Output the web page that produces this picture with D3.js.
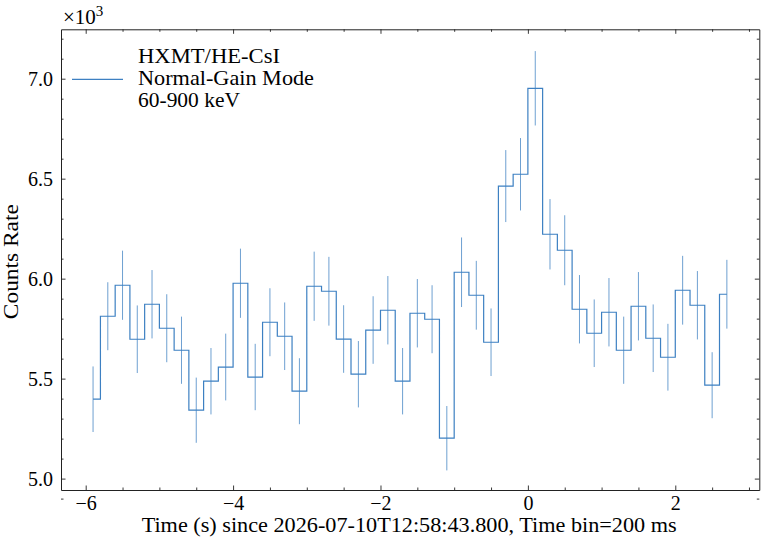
<!DOCTYPE html>
<html>
<head>
<meta charset="utf-8">
<script src="https://cdn.jsdelivr.net/npm/d3@7"></script>
<style>
  body { margin: 0; background: #fff; }
  text { font-family: "Liberation Serif", "DejaVu Serif", serif; fill: #000; }
</style>
</head>
<body>
<svg id="chart" width="763" height="545"></svg>
<script>
"use strict";

// bin centres (s), 200 ms bins
var times = [-5.9,-5.7,-5.5,-5.3,-5.1,-4.9,-4.7,-4.5,-4.3,-4.1,
             -3.9,-3.7,-3.5,-3.3,-3.1,-2.9,-2.7,-2.5,-2.3,-2.1,
             -1.9,-1.7,-1.5,-1.3,-1.1,-0.9,-0.7,-0.5,-0.3,-0.1,
             0.1,0.3,0.5,0.7,0.9,1.1,1.3,1.5,1.7,1.9,
             2.1,2.3,2.5,2.7];
// count rate (counts/s)
var rates = [5397,5812,5967,5697,5872,5752,5642,5342,5487,5558,
             5977,5508,5782,5712,5437,5962,5937,5698,5522,5743,
             5842,5487,5827,5797,5202,6032,5917,5682,6463,6522,
             6952,6222,6142,5847,5727,5832,5642,5862,5702,5607,
             5942,5867,5467,5922];
// 1-sigma errors (counts/s)
var errors = [164,170,173,169,171,170,168,163,166,167,
              173,166,170,169,165,173,172,169,166,169,
              171,166,171,170,161,174,172,169,180,181,
              186,176,175,171,169,171,168,171,169,167,
              172,171,165,172];

var xMajor = [-6,-4,-2,0,2];
var yMajor = [5.0,5.5,6.0,6.5,7.0];
var legendLines = ["HXMT/HE-CsI","Normal-Gain Mode","60-900 keV"];
var legendWidths = [142,176,102];
var xLabel = "Time (s) since 2026-07-10T12:58:43.800, Time bin=200 ms";
var yLabel = "Counts Rate";

var margin = {left:61, top:29.3, right:763-759.3, bottom:545-490};
var width = 763 - margin.left - margin.right,
    height = 545 - margin.top - margin.bottom;
var colour = "#3d80c2";

var svg = d3.select("#chart");
var g = svg.append("g").attr("transform","translate("+margin.left+","+margin.top+")");

var x = d3.scaleLinear().domain([-6.335,3.14]).range([0,width]);
// values drawn in units of 10^3
var y = d3.scaleLinear().domain([4.943,7.247]).range([height,0]);

var data = times.map(function(t,i){
    return {t:t, v:rates[i]/1000, e:errors[i]/1000};
});

//error bars
g.selectAll(".err").data(data).enter().append("line")
    .attr("class","err")
    .attr("x1",d=>x(d.t)).attr("x2",d=>x(d.t))
    .attr("y1",d=>y(d.v-d.e)).attr("y2",d=>y(d.v+d.e))
    .style("stroke",colour).style("stroke-opacity",0.75).style("stroke-width",1);

//step line (mid)
var stepLine = d3.line().x(d=>x(d.t)).y(d=>y(d.v)).curve(d3.curveStep);
g.append("path").datum(data)
    .attr("d",stepLine)
    .style("fill","none").style("stroke",colour).style("stroke-width",1.2);

//----------------------------------------
//Axes: inward ticks on all four sides
var xMinor = d3.range(-6,3.01,0.5).filter(v=>xMajor.indexOf(v) < 0);
var yMinor = d3.range(49,73,1).map(v=>v/10).filter(v=>yMajor.indexOf(v) < 0);
var fmtX = d => (d < 0 ? "\u2212" + Math.abs(d) : "" + d);

var axes = [
    {ax:d3.axisBottom(x).tickValues(xMajor).tickFormat(fmtX), tr:"translate(0,"+height+")", minor:d3.axisBottom(x).tickValues(xMinor), pad:6},
    {ax:d3.axisTop(x).tickValues(xMajor).tickFormat(""), tr:"translate(0,0)", minor:d3.axisTop(x).tickValues(xMinor), pad:6},
    {ax:d3.axisLeft(y).tickValues(yMajor).tickFormat(d3.format(".1f")), tr:"translate(0,0)", minor:d3.axisLeft(y).tickValues(yMinor), pad:8},
    {ax:d3.axisRight(y).tickValues(yMajor).tickFormat(""), tr:"translate("+width+",0)", minor:d3.axisRight(y).tickValues(yMinor), pad:8}
];
axes.forEach(function(a){
    var ga = g.append("g").attr("transform",a.tr)
        .call(a.ax.tickSizeInner(-4.5).tickSizeOuter(0).tickPadding(a.pad));
    ga.append("g").call(a.minor.tickSizeInner(-2.5).tickSizeOuter(0).tickFormat(""))
        .select(".domain").remove();
    ga.selectAll("line").style("stroke","#222").style("stroke-width",0.9);
    ga.select(".domain").style("stroke","#222").style("stroke-width",1);
    ga.selectAll("text").attr("font-family","Liberation Serif, serif").attr("font-size","20px");
});

//exponent
var expo = svg.append("text").attr("x",63).attr("y",24)
    .style("font-size","21px");
expo.append("tspan").text("\u00d710");
expo.append("tspan").attr("dy",-8).style("font-size","15px").text("3");

//axis labels
svg.append("text")
    .attr("x",margin.left + width/2 - 1).attr("y",532)
    .attr("text-anchor","middle").attr("font-size","21px")
    .attr("textLength",535).attr("lengthAdjust","spacingAndGlyphs")
    .text(xLabel);
svg.append("text")
    .attr("transform","translate(18,"+(margin.top+height/2 + 2)+") rotate(-90)")
    .attr("text-anchor","middle").attr("font-size","21px")
    .attr("textLength",115).attr("lengthAdjust","spacingAndGlyphs")
    .text(yLabel);

//legend
var legend = svg.append("g");
legend.append("line")
    .attr("x1",72).attr("x2",123)
    .attr("y1",79.3).attr("y2",79.3)
    .style("stroke",colour).style("stroke-width",1.2);
legend.selectAll(".lg").data(legendLines).enter().append("text")
    .attr("class","lg")
    .attr("x",138)
    .attr("y",(d,i)=>63 + i*22)
    .attr("font-size","21px")
    .attr("textLength",(d,i)=>legendWidths[i]).attr("lengthAdjust","spacingAndGlyphs")
    .text(d=>d);
</script>
</body>
</html>
